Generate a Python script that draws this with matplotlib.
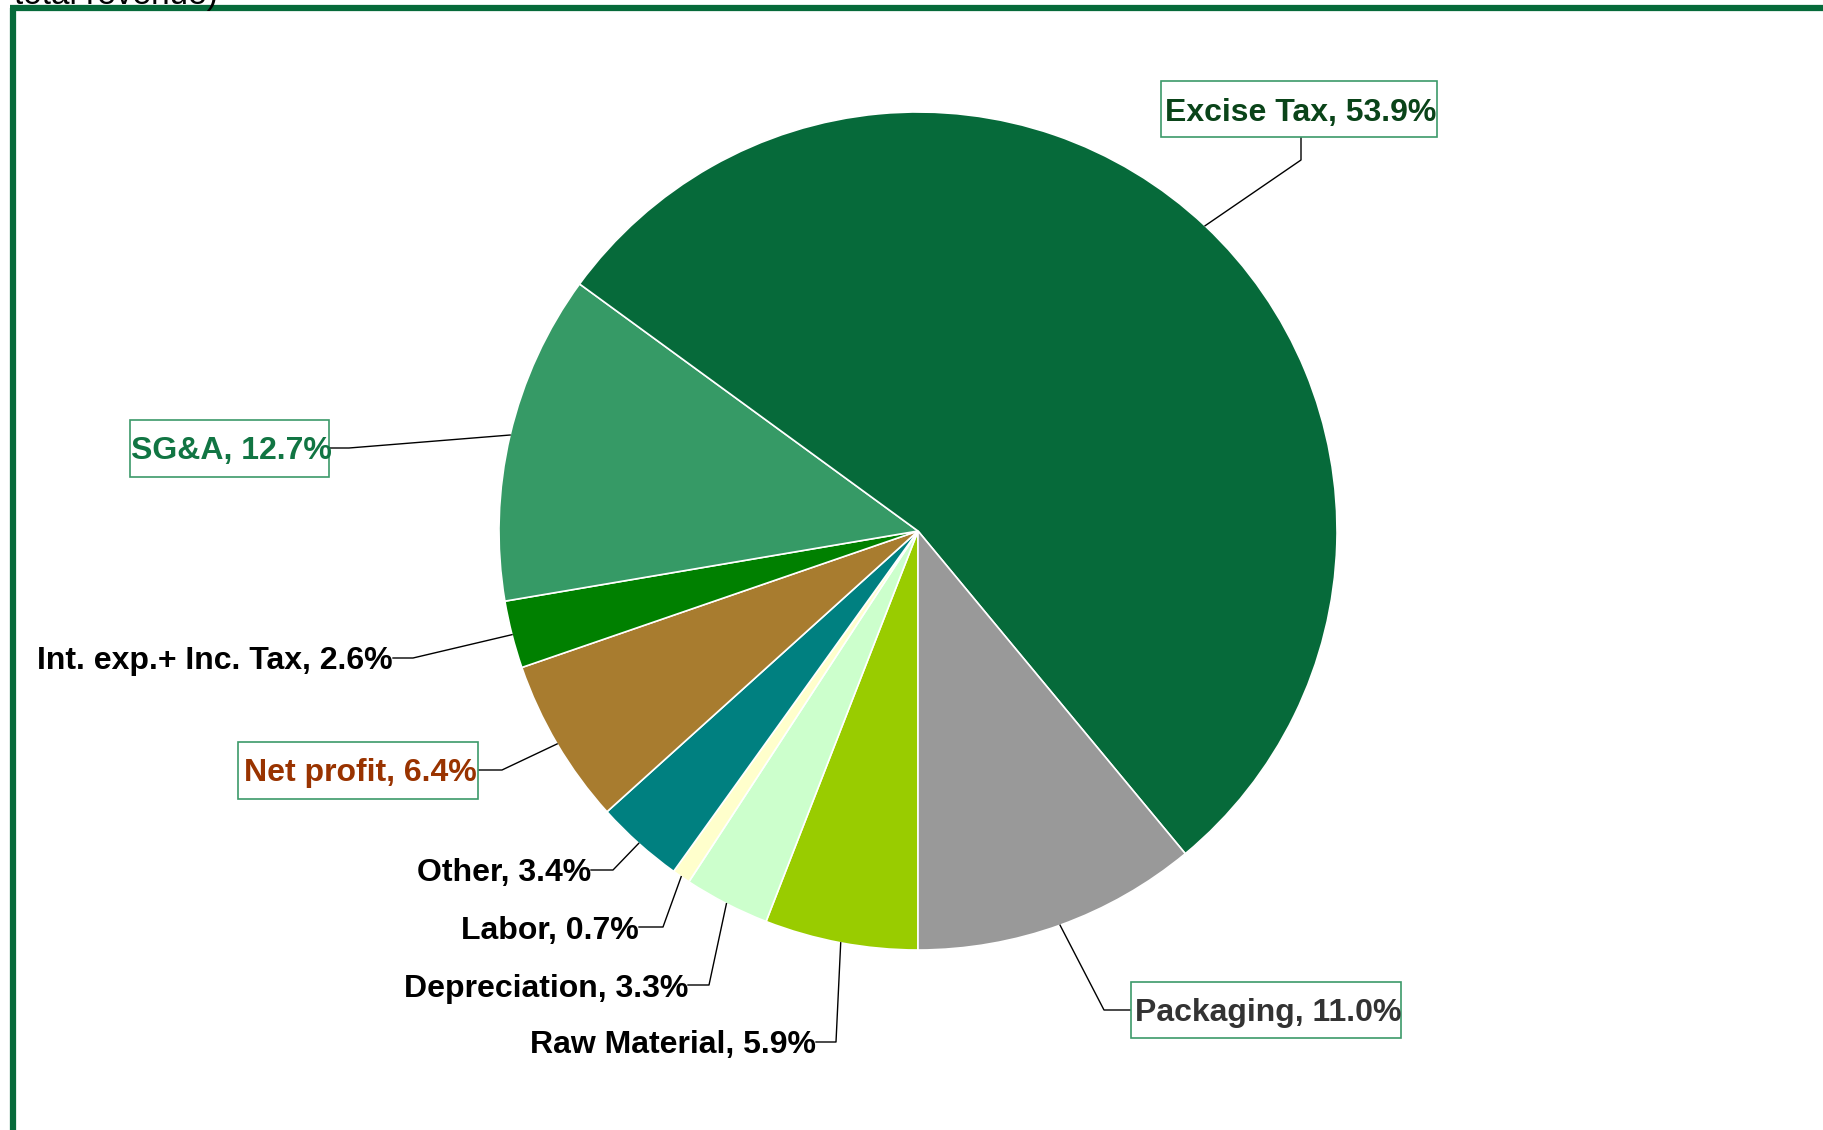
import matplotlib.pyplot as plt
from matplotlib.patches import Rectangle
import numpy as np

# data, clockwise from 6 o'clock
names = ["Raw Material", "Depreciation", "Labor", "Other", "Net profit",
         "Int. exp.+ Inc. Tax", "SG&A", "Excise Tax", "Packaging"]
shares = [5.9, 3.3, 0.7, 3.4, 6.4, 2.6, 12.7, 53.9, 11.0]
colors = ["#99CC00", "#CCFFCC", "#FFFFCC", "#008080", "#A87C2F",
          "#008000", "#369A66", "#066A3A", "#999999"]

W, H = 1823, 1130
fig = plt.figure(figsize=(W / 100, H / 100), dpi=100)
ax = fig.add_axes([0, 0, 1, 1])

cx, cy, R = 918, H - 531, 419
wedges, _ = ax.pie(shares, colors=colors, startangle=-90, counterclock=False,
                   center=(cx, cy), radius=R,
                   wedgeprops=dict(edgecolor="white", linewidth=1.2))
ax.set_xlim(0, W)
ax.set_ylim(0, H)
ax.set_aspect("equal")
ax.axis("off")

# label layout: text x, text y (pixels from top), elbow x, box (x0, y0, x1, y1) or None, text colour
layout = {
    "Excise Tax": (1301, 109, None, (1161, 81, 1437, 137), "#0A4419"),
    "Packaging": (1268, 1010, 1104, (1131, 982, 1401, 1038), "#333333"),
    "SG&A": (231, 448, 349, (130, 420, 329, 477), "#117543"),
    "Net profit": (360, 770, 502, (238, 742, 478, 799), "#993300"),
    "Int. exp.+ Inc. Tax": (393, 658, 413, None, "black"),
    "Other": (591, 870, 613, None, "black"),
    "Labor": (639, 927, 663, None, "black"),
    "Depreciation": (688, 985, 709, None, "black"),
    "Raw Material": (816, 1042, 836, None, "black"),
}

font = dict(family="Liberation Sans", weight="bold", size=23)

for w, name, v in zip(wedges, names, shares):
    tx, ty, ex, box, col = layout[name]
    mid = np.deg2rad((w.theta1 + w.theta2) / 2)
    px, py = cx + R * np.cos(mid), cy + R * np.sin(mid)
    label = f"{name}, {v:.1f}%"
    if name == "Excise Tax":
        # leader goes down from box bottom, then to the slice
        ax.plot([1301, 1301, px], [H - 137, H - 160, py], color="black", lw=1)
    elif box is not None:
        side = box[2] if ex > box[2] else box[0]
        ax.plot([side, ex, px], [H - ty, H - ty, py], color="black", lw=1)
    else:
        ax.plot([tx, ex, px], [H - ty, H - ty, py], color="black", lw=1)

    if box is not None:
        x0, y0, x1, y1 = box
        ax.add_patch(Rectangle((x0, H - y1), x1 - x0, y1 - y0, facecolor="white",
                               edgecolor="#3C9A6A", lw=1.2, zorder=3))
        ax.text(tx, H - ty, label, ha="center", va="center_baseline",
                color=col, zorder=4, **font)
    else:
        ax.text(tx, H - ty, label, ha="right", va="center_baseline",
                color=col, zorder=4, **font)

# frame of the slide panel
ax.plot([13, 13], [0, H - 8], color="#066A3A", lw=4.5, solid_capstyle="butt")
ax.plot([10, W], [H - 8, H - 8], color="#066A3A", lw=4.5, solid_capstyle="butt")

# title text cut off at the top edge, as in the source slide
ax.text(14, H - 4, "total revenue)", ha="left", va="baseline",
        family="Liberation Sans", size=24, color="black")

fig.savefig("out.png", dpi=100)
